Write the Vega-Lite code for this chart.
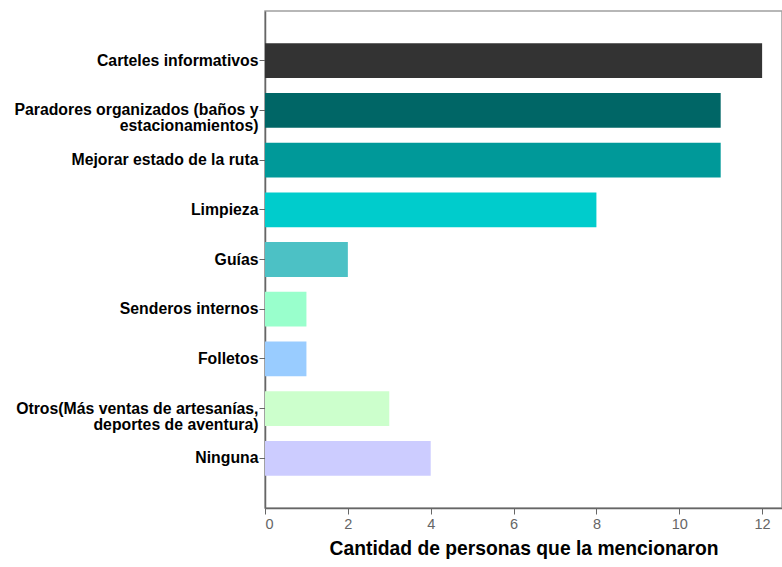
{
  "$schema": "https://vega.github.io/schema/vega-lite/v6.json",
  "autosize": {"type": "none"},
  "padding": {"left": 265, "top": 11, "right": 0, "bottom": 59},
  "width": 517,
  "height": 497,
  "background": "white",
  "config": {
    "view": {"stroke": "#a0a0a0", "strokeWidth": 1.5},
    "font": "Liberation Sans"
  },
  "data": {
    "values": [
      {"categoria": "Carteles informativos", "cantidad": 12},
      {"categoria": "Paradores organizados (baños y|estacionamientos)", "cantidad": 11},
      {"categoria": "Mejorar estado de la ruta", "cantidad": 11},
      {"categoria": "Limpieza", "cantidad": 8},
      {"categoria": "Guías", "cantidad": 2},
      {"categoria": "Senderos internos", "cantidad": 1},
      {"categoria": "Folletos", "cantidad": 1},
      {"categoria": "Otros(Más ventas de artesanías,|deportes de aventura)", "cantidad": 3},
      {"categoria": "Ninguna", "cantidad": 4}
    ]
  },
  "mark": {"type": "bar", "strokeWidth": 0},
  "encoding": {
    "y": {
      "field": "categoria",
      "type": "nominal",
      "sort": null,
      "scale": {"paddingInner": 0.3, "paddingOuter": 0.65},
      "axis": {
        "title": null,
        "labelExpr": "split(datum.label, '|')",
        "labelFont": "Liberation Sans",
        "labelFontSize": 15.8,
        "labelFontWeight": "bold",
        "labelColor": "#000000",
        "labelLineHeight": 16,
        "labelPadding": 1,
        "labelLimit": 300,
        "tickSize": 6,
        "tickColor": "#666666",
        "domainColor": "#666666",
        "domainWidth": 1.5
      }
    },
    "x": {
      "field": "cantidad",
      "type": "quantitative",
      "scale": {"domain": [0, 12.48], "nice": false},
      "axis": {
        "title": "Cantidad de personas que la mencionaron",
        "titleFont": "Liberation Sans",
        "titleFontSize": 19.3,
        "titleFontWeight": "bold",
        "titleColor": "#000000",
        "titlePadding": 9,
        "values": [0, 2, 4, 6, 8, 10, 12],
        "grid": false,
        "labelFont": "Liberation Sans",
        "labelFontSize": 14.5,
        "labelColor": "#666666",
        "labelPadding": 3,
        "tickSize": 6,
        "tickColor": "#666666",
        "domainColor": "#666666",
        "domainWidth": 1.5
      }
    },
    "color": {
      "field": "categoria",
      "type": "nominal",
      "legend": null,
      "scale": {
        "domain": [
          "Carteles informativos",
          "Paradores organizados (baños y|estacionamientos)",
          "Mejorar estado de la ruta",
          "Limpieza",
          "Guías",
          "Senderos internos",
          "Folletos",
          "Otros(Más ventas de artesanías,|deportes de aventura)",
          "Ninguna"
        ],
        "range": ["#333333", "#006666", "#009999", "#00cccc", "#4cc1c5", "#99ffcc", "#99ccff", "#ccffcc", "#ccccff"]
      }
    }
  }
}
